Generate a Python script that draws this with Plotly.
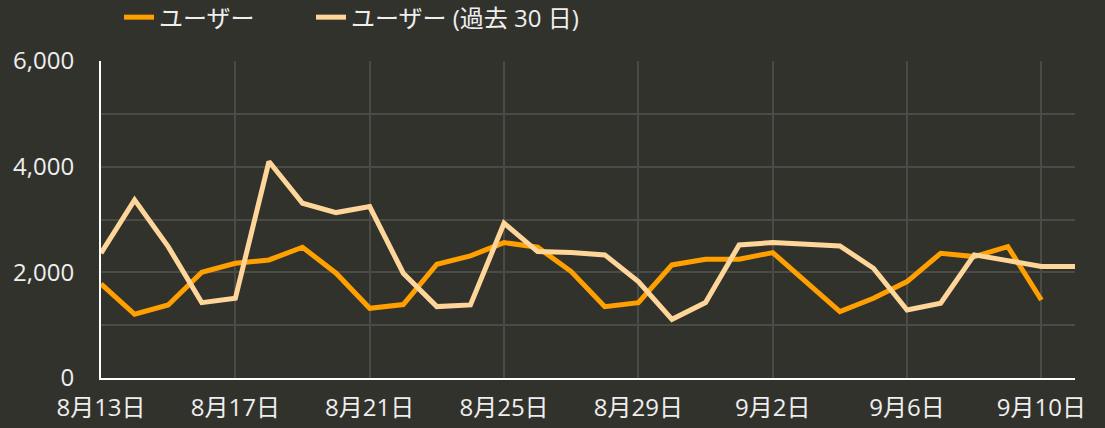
import plotly.graph_objects as go
import pandas as pd

dates = pd.date_range("2024-08-13", "2024-09-11", freq="D")

users = [1780, 1206, 1383, 2002, 2172, 2235, 2475, 1983, 1320, 1390,
         2153, 2311, 2563, 2475, 2014, 1351, 1427, 2140, 2248, 2248,
         2374, 1825, 1256, 1509, 1825, 2361, 2298, 2487, 1477]

users_30d = [2361, 3371, 2487, 1427, 1509, 4097, 3308, 3131, 3244, 1983,
             1351, 1383, 2930, 2393, 2374, 2330, 1825, 1111, 1427, 2519,
             2563, 2532, 2500, 2077, 1288, 1414, 2330, 2222, 2109, 2109]

series_names = ["ユーザー", "ユーザー (過去 30 日)"]
series_colors = ["#FFA000", "#FFD699"]

BG = "#32322D"
GRID = "#4A4A47"
FONT = "Open Sans, Noto Sans CJK JP, sans-serif"

fig = go.Figure()
fig.add_trace(go.Scatter(x=dates[:len(users)], y=users, mode="lines",
                         name=series_names[0], legend="legend",
                         line=dict(color=series_colors[0], width=5)))
fig.add_trace(go.Scatter(x=dates[:len(users_30d)], y=users_30d, mode="lines",
                         name=series_names[1], legend="legend2",
                         line=dict(color=series_colors[1], width=5)))

legend_common = dict(orientation="h", xanchor="left", y=1.208, yanchor="top",
                     yref="paper", font=dict(size=24, color="#EEEEEE"),
                     bgcolor="rgba(0,0,0,0)")

fig.update_layout(
    width=1105, height=428,
    paper_bgcolor=BG, plot_bgcolor=BG,
    margin=dict(l=101, r=30, t=61, b=50, autoexpand=False),
    font=dict(family=FONT, size=24, color="#EEEEEE"),
    showlegend=True,
    legend=dict(x=0.0185, **legend_common),
    legend2=dict(x=0.2156, **legend_common),
)
fig.update_xaxes(
    type="date",
    range=[dates[0], dates[-1]],
    tick0=dates[0], dtick=4 * 86400000,
    tickformat="%-m月%-d日",
    showgrid=True, gridcolor=GRID, gridwidth=2,
    showline=True, linecolor="#FFFFFF", linewidth=2,
    ticks="", ticklabelstandoff=7,
    zeroline=False,
)
fig.update_yaxes(
    range=[0, 6000],
    tick0=0, dtick=2000, tickformat=",d",
    showgrid=True, gridcolor=GRID, gridwidth=2,
    minor=dict(dtick=1000, showgrid=True, gridcolor=GRID, gridwidth=2),
    showline=True, linecolor="#FFFFFF", linewidth=2,
    ticks="", ticklabelstandoff=20,
    zeroline=False,
)

fig.write_html("out.html", config={"displayModeBar": False},
               post_script="document.body.style.margin='0';")
